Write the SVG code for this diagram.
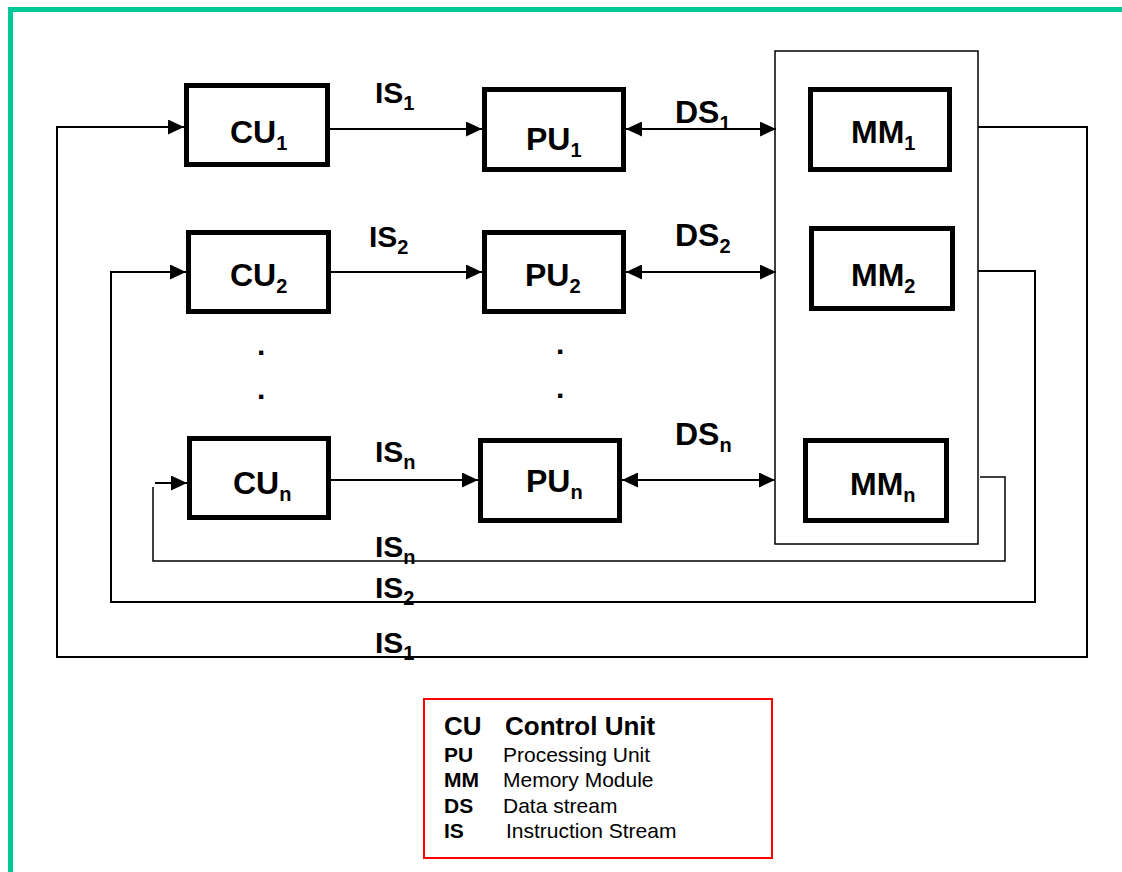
<svg xmlns="http://www.w3.org/2000/svg" width="1122" height="872" viewBox="0 0 1122 872">
<defs>
<marker id="ah" markerUnits="userSpaceOnUse" markerWidth="16" markerHeight="15" refX="16" refY="7.5" orient="auto-start-reverse">
<path d="M0,0 L16,7.5 L0,15 z" fill="#000"/>
</marker>
<style>
text{font-family:"Liberation Sans",Arial,sans-serif;fill:#000}
.box{fill:#fff;stroke:#000;stroke-width:5}
.lbl{font-size:32px;font-weight:bold}
.is{font-size:30px;font-weight:bold}
.sub{font-size:20px}
.c{fill:none;stroke:#000;stroke-width:2}
.thin{fill:none;stroke:#000;stroke-width:1.5}
.lg1{font-size:26px;font-weight:bold}
.lgb{font-size:21px;font-weight:bold}
.lgr{font-size:21px}
</style>
</defs>
<rect width="1122" height="872" fill="#fff"/>
<path d="M10.5,872 V9.5 H1122" fill="none" stroke="#00c896" stroke-width="5"/>

<g id="memory-container"><rect x="775" y="51" width="203" height="493" class="thin"/></g>

<g id="connectors">
<line x1="330" y1="129" x2="482" y2="129" class="c" marker-end="url(#ah)"/>
<line x1="626" y1="129" x2="776" y2="129" class="c" marker-start="url(#ah)" marker-end="url(#ah)"/>
<line x1="331" y1="272" x2="482" y2="272" class="c" marker-end="url(#ah)"/>
<line x1="626" y1="272" x2="776" y2="272" class="c" marker-start="url(#ah)" marker-end="url(#ah)"/>
<line x1="331" y1="480" x2="478" y2="480" class="c" marker-end="url(#ah)"/>
<line x1="622" y1="480" x2="775" y2="480" class="c" marker-start="url(#ah)" marker-end="url(#ah)"/>
<path d="M978,127 H1087 V657 H57 V127 H184" class="c" marker-end="url(#ah)"/>
<path d="M978,271 H1035 V602 H111 V272 H186" class="c" marker-end="url(#ah)"/>
<path d="M980,477 H1005 V561 H153 V487" class="thin"/>
<line x1="155" y1="483" x2="187" y2="483" class="c" marker-end="url(#ah)"/>
</g>

<g id="connector-labels">
<text x="375" y="103" class="is">IS<tspan class="sub" dy="7">1</tspan></text>
<text x="369" y="247" class="is">IS<tspan class="sub" dy="7">2</tspan></text>
<text x="375" y="462" class="is">IS<tspan class="sub" dy="7">n</tspan></text>
<text x="675" y="123" class="lbl">DS<tspan class="sub" dy="7">1</tspan></text>
<text x="675" y="246" class="lbl">DS<tspan class="sub" dy="7">2</tspan></text>
<text x="675" y="445" class="lbl">DS<tspan class="sub" dy="7">n</tspan></text>
<text x="375" y="557" class="is">IS<tspan class="sub" dy="7">n</tspan></text>
<text x="375" y="598" class="is">IS<tspan class="sub" dy="7">2</tspan></text>
<text x="375" y="653" class="is">IS<tspan class="sub" dy="7">1</tspan></text>
</g>

<g id="cu1"><rect x="186.5" y="85.5" width="141" height="79" class="box"/><text x="230" y="143" class="lbl">CU<tspan class="sub" dy="7">1</tspan></text></g>
<g id="cu2"><rect x="188.5" y="232.5" width="140" height="79" class="box"/><text x="230" y="286" class="lbl">CU<tspan class="sub" dy="7">2</tspan></text></g>
<g id="cun"><rect x="189.5" y="438.5" width="139" height="79" class="box"/><text x="233" y="494" class="lbl">CU<tspan class="sub" dy="7">n</tspan></text></g>
<g id="pu1"><rect x="484.5" y="89.5" width="139" height="80" class="box"/><text x="526" y="150" class="lbl">PU<tspan class="sub" dy="7">1</tspan></text></g>
<g id="pu2"><rect x="484.5" y="232.5" width="139" height="79" class="box"/><text x="525" y="286" class="lbl">PU<tspan class="sub" dy="7">2</tspan></text></g>
<g id="pun"><rect x="480.5" y="440.5" width="139" height="80" class="box"/><text x="526" y="492" class="lbl">PU<tspan class="sub" dy="7">n</tspan></text></g>
<g id="mm1"><rect x="810.5" y="89.5" width="139" height="80" class="box"/><text x="851" y="143" class="lbl">MM<tspan class="sub" dy="7">1</tspan></text></g>
<g id="mm2"><rect x="811.5" y="228.5" width="141" height="80" class="box"/><text x="851" y="286" class="lbl">MM<tspan class="sub" dy="7">2</tspan></text></g>
<g id="mmn"><rect x="805.5" y="440.5" width="141" height="80" class="box"/><text x="850" y="495" class="lbl">MM<tspan class="sub" dy="7">n</tspan></text></g>

<g id="ellipsis">
<text x="257" y="355" class="is">.</text>
<text x="257" y="399" class="is">.</text>
<text x="556" y="354" class="is">.</text>
<text x="556" y="398" class="is">.</text>
</g>

<g id="legend">
<rect x="424" y="699" width="348" height="159" fill="none" stroke="#ff0000" stroke-width="2"/>
<text x="444" y="735" class="lg1">CU</text><text x="505" y="735" class="lg1">Control Unit</text>
<text x="444" y="762" class="lgb">PU</text><text x="503" y="762" class="lgr">Processing Unit</text>
<text x="444" y="787" class="lgb">MM</text><text x="503" y="787" class="lgr">Memory Module</text>
<text x="444" y="813" class="lgb">DS</text><text x="503" y="813" class="lgr">Data stream</text>
<text x="444" y="838" class="lgb">IS</text><text x="506" y="838" class="lgr">Instruction Stream</text>
</g>
</svg>
